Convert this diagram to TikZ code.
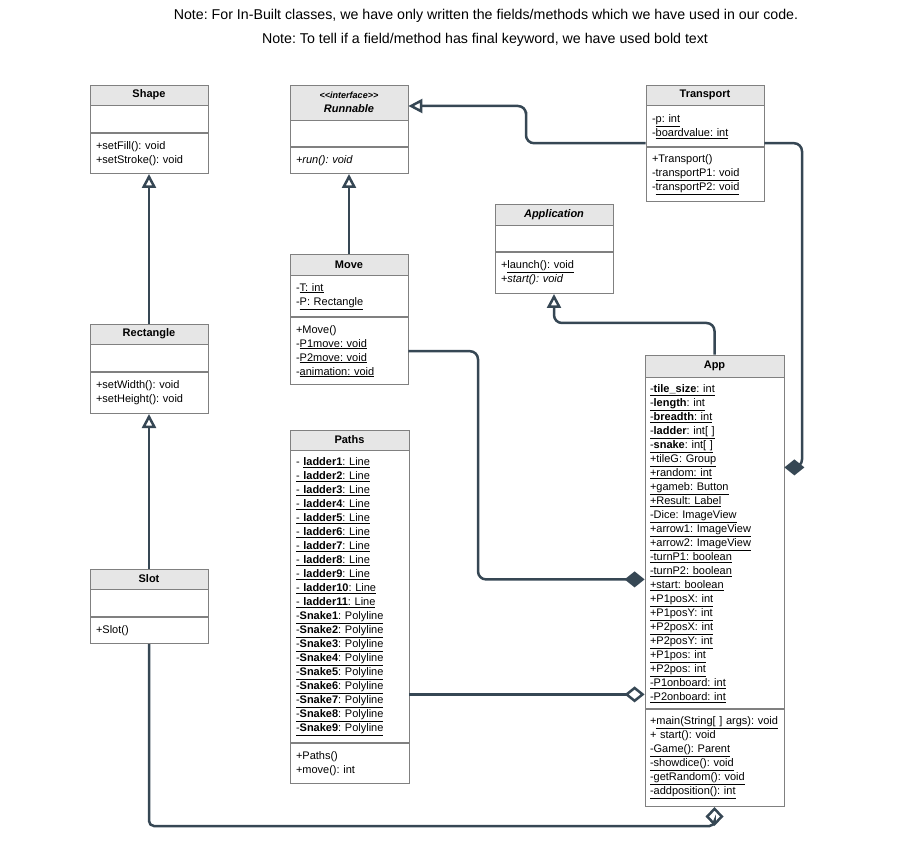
\documentclass[tikz,border=0pt]{standalone}
\usepackage{fontspec}
\setmainfont{Liberation Sans}
\usetikzlibrary{positioning,arrows.meta}
\definecolor{umlline}{RGB}{54, 71, 84}
\definecolor{umlhead}{RGB}{230, 230, 230}
\definecolor{umlborder}{RGB}{128, 128, 128}
\frenchspacing

\begin{document}
\begin{tikzpicture}[x=1pt, y=-1pt,
  head/.style={draw=umlborder, fill=umlhead, line width=0.8pt, minimum width=#1,
    minimum height=20, inner sep=0pt, align=center, font=\fontsize{11}{13}\selectfont\bfseries},
  head/.default=118,
  sec/.style={draw=umlborder, fill=white, line width=0.8pt, text width=#1, inner xsep=6pt,
    inner ysep=0pt, align=left, font=\fontsize{11}{14}\selectfont},
  sec/.default=106pt,
  conn/.style={draw=umlline, line width=2.5pt, rounded corners=8pt},
  gen/.style={conn, -{Triangle[open, length=14pt, width=14pt]}},
  comp/.style={conn, {Diamond[length=20pt, width=16pt]}-},
  aggr/.style={conn, {Diamond[open, length=20pt, width=16pt]}-}]
\useasboundingbox (0,0) rectangle (903,861);

% notes on top
\node[font=\fontsize{14.2}{16}\selectfont] (note1) at (486,16)
  {Note: For In-Built classes, we have only written the fields/methods which we have used in our code.};
\node[font=\fontsize{14.2}{16}\selectfont] (note2) at (485,40)
  {Note: To tell if a field/method has final keyword, we have used bold text};

% Shape
\node[head] (shape) at (149,95) {Shape};
\node[sec, minimum height=27, below=0pt of shape] (shapeA) {};
\node[sec, minimum height=40, below=0pt of shapeA] (shapeM) {+setFill(): void\\+setStroke(): void};

% Runnable
\node[head, minimum height=35, font=\fontsize{11}{14}\selectfont\bfseries\itshape] (runnable) at (349,102.5)
  {\fontsize{9}{14}\selectfont {<}{<}interface{>}{>}\\\fontsize{11}{14}\selectfont Runnable};
\node[sec, minimum height=26, below=0pt of runnable] (runnableA) {};
\node[sec, minimum height=26, below=0pt of runnableA] (runnableM) {\textit{+run(): void}};

% Transport
\node[head] (transport) at (705,95) {Transport};
\node[sec, minimum height=41, below=0pt of transport] (transportA)
  {-\underline{p: int}\\-\underline{boardvalue: int}};
\node[sec, minimum height=54, below=0pt of transportA] (transportM)
  {+Transport()\\-\underline{transportP1: void}\\-\underline{transportP2: void}};

% Application
\node[head, minimum height=21] (application) at (554,214.5) {\textit{Application}};
\node[sec, minimum height=26, below=0pt of application] (applicationA) {};
\node[sec, minimum height=41, below=0pt of applicationA] (applicationM)
  {+\underline{launch(): void}\\+\textit{start(): void}};

% Move
\node[head, minimum height=21] (move) at (349,264.5) {Move};
\node[sec, minimum height=41, below=0pt of move] (moveA)
  {-\underline{T: int}\\-\underline{P: Rectangle}};
\node[sec, minimum height=67, below=0pt of moveA] (moveM)
  {+Move()\\-\underline{P1move: void}\\-\underline{P2move: void}\\-\underline{animation: void}};

% Rectangle
\node[head] (rectangle) at (149,334) {Rectangle};
\node[sec, minimum height=27, below=0pt of rectangle] (rectangleA) {};
\node[sec, minimum height=41, below=0pt of rectangleA] (rectangleM)
  {+setWidth(): void\\+setHeight(): void};

% Slot
\node[head] (slot) at (149,579) {Slot};
\node[sec, minimum height=27, below=0pt of slot] (slotA) {};
\node[sec, minimum height=26, below=0pt of slotA] (slotM) {+Slot()};

% Paths
\node[head=119] (paths) at (349.5,440) {Paths};
\node[sec=107pt, minimum height=292, below=0pt of paths] (pathsA)
  {- \underline{\textbf{ladder1}: Line}\\
   \underline{- \textbf{ladder2}: Line}\\
   \underline{- \textbf{ladder3}: Line}\\
   \underline{- \textbf{ladder4}: Line}\\
   \underline{- \textbf{ladder5}: Line}\\
   \underline{- \textbf{ladder6}: Line}\\
   \underline{- \textbf{ladder7}: Line}\\
   \underline{- \textbf{ladder8}: Line}\\
   \underline{- \textbf{ladder9}: Line}\\
   \underline{- \textbf{ladder10}: Line}\\
   \underline{- \textbf{ladder11}: Line}\\
   \underline{-\textbf{Snake1}: Polyline}\\
   \underline{-\textbf{Snake2}: Polyline}\\
   \underline{-\textbf{Snake3}: Polyline}\\
   \underline{-\textbf{Snake4}: Polyline}\\
   \underline{-\textbf{Snake5}: Polyline}\\
   \underline{-\textbf{Snake6}: Polyline}\\
   \underline{-\textbf{Snake7}: Polyline}\\
   \underline{-\textbf{Snake8}: Polyline}\\
   \underline{-\textbf{Snake9}: Polyline}};
\node[sec=107pt, minimum height=40, below=0pt of pathsA] (pathsM) {+Paths()\\+move(): int};

% App
\node[head=139, minimum height=22] (app) at (714.5,366) {App};
\node[sec=129pt, inner xsep=5pt, minimum height=331, below=0pt of app] (appA)
  {\underline{-\textbf{tile\_size}: int}\\
   \underline{-\textbf{length}: int}\\
   \underline{-\textbf{breadth}: int}\\
   \underline{-\textbf{ladder}: int[ ]}\\
   \underline{-\textbf{snake}: int[ ]}\\
   \underline{+tileG: Group}\\
   \underline{+random: int}\\
   \underline{+gameb: Button}\\
   \underline{+Result: Label}\\
   \underline{-Dice: ImageView}\\
   \underline{+arrow1: ImageView}\\
   \underline{+arrow2: ImageView}\\
   \underline{-turnP1: boolean}\\
   \underline{-turnP2: boolean}\\
   \underline{+start: boolean}\\
   \underline{+P1posX: int}\\
   \underline{+P1posY: int}\\
   \underline{+P2posX: int}\\
   \underline{+P2posY: int}\\
   \underline{+P1pos: int}\\
   \underline{+P2pos: int}\\
   \underline{-P1onboard: int}\\
   \underline{-P2onboard: int}};
\node[sec=129pt, inner xsep=5pt, minimum height=97, below=0pt of appA] (appM)
  {+\underline{main(String[ ] args): void}\\
   + start(): void\\
   \underline{-Game(): Parent}\\
   \underline{-showdice(): void}\\
   \underline{-getRandom(): void}\\
   \underline{-addposition(): int}};

% generalisations
\draw[gen] (rectangle.north) -- (shapeM.south);
\draw[gen] (slot.north) -- (rectangleM.south);
\draw[gen] (move.north) -- (runnableM.south);
\draw[gen] ([yshift=4pt]transportA.south west) -| (526,120) |- ([yshift=-3.5pt]runnable.east);
\draw[gen] (app.north) |- (600,323) -| (applicationM.south);

% compositions and aggregations
\draw[comp] ([yshift=-90pt]appA.north east) -| (802,300) |- ([yshift=4pt]transportA.south east);
\draw[comp] ([yshift=-202pt]appA.north west) -| (478,450) |- ([yshift=-34pt]moveM.north east);
\coordinate (pathsIn) at ([yshift=-317pt]appA.north west);
\draw[aggr] (pathsIn) -- (pathsA.east |- pathsIn);
\coordinate (slotOut) at (400,826);
\draw[conn, rounded corners=5pt, -{Diamond[open, length=19pt, width=18pt]}]
  (slotM.south) |- (slotOut) -| (appM.south);
\end{tikzpicture}
\end{document}
